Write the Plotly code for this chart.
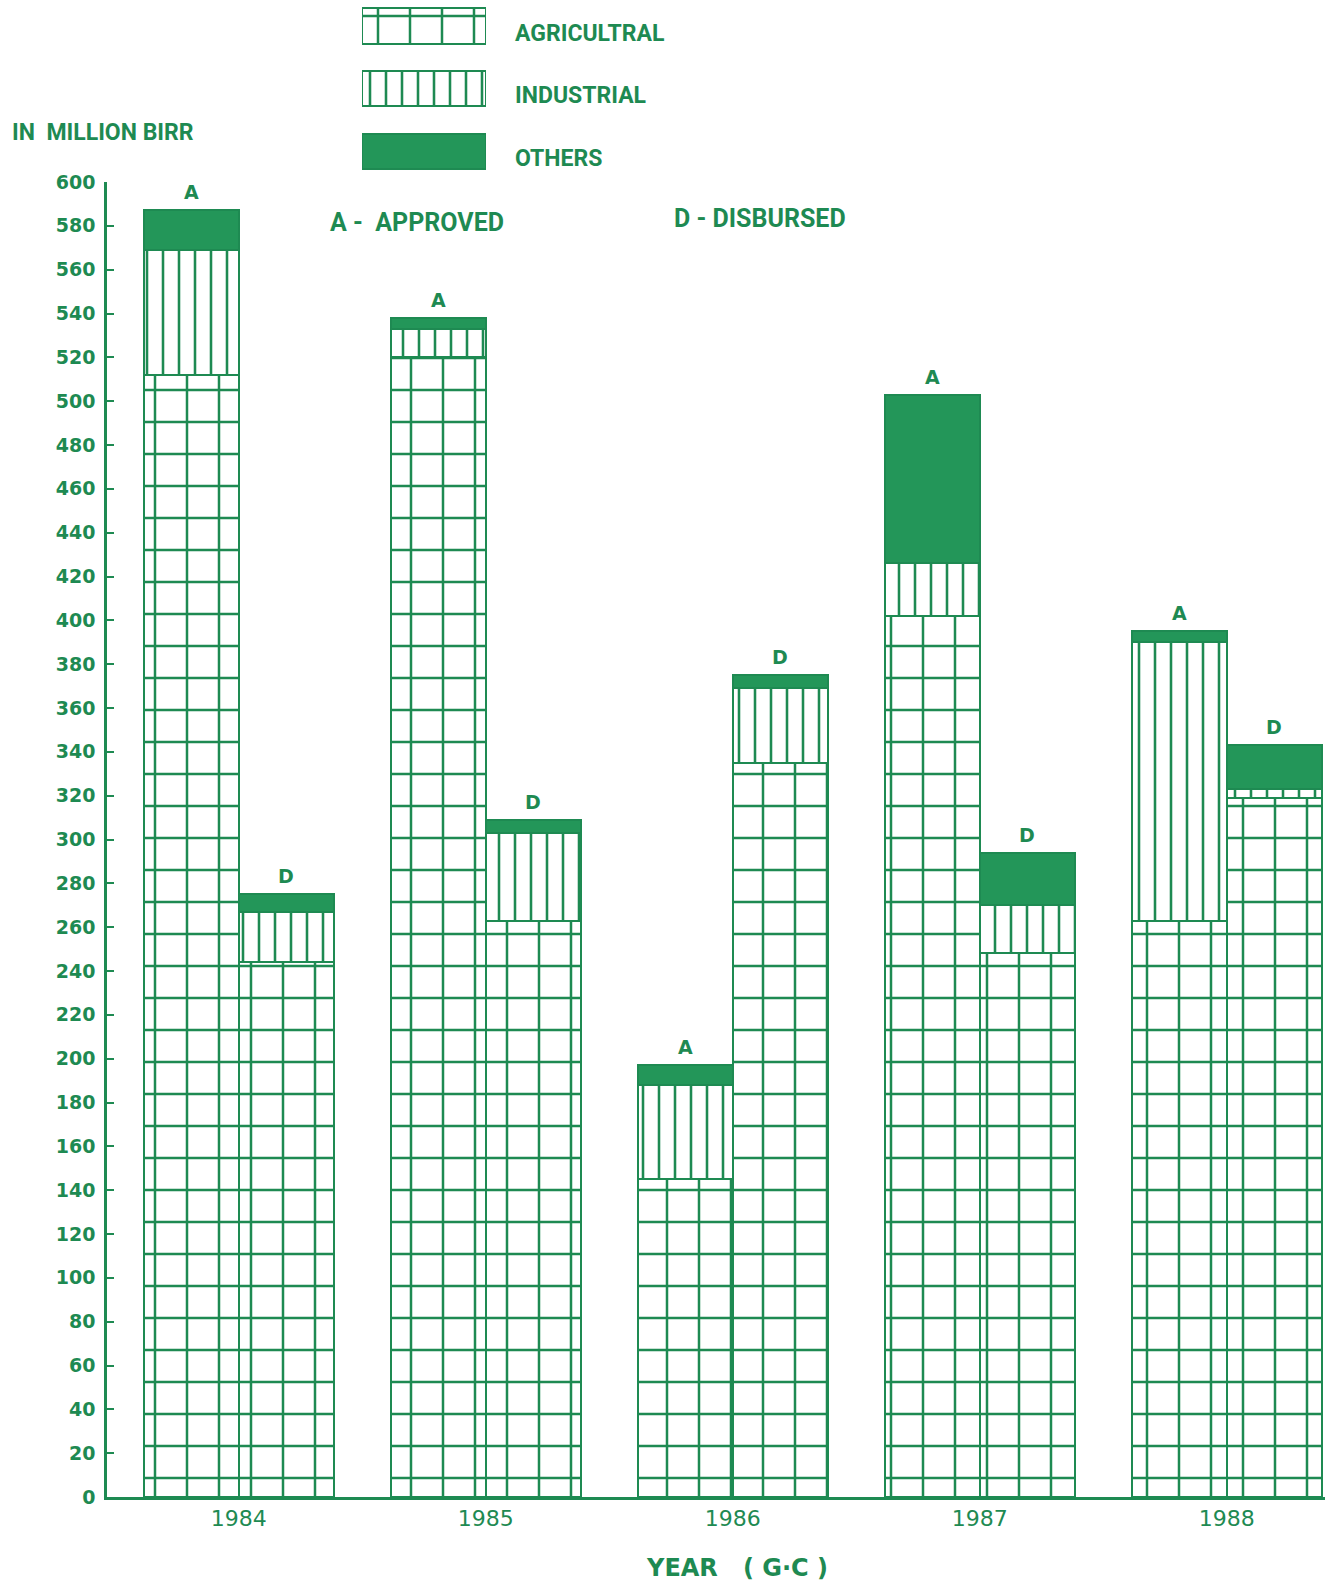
import plotly.graph_objects as go

# ---------------- data ----------------
years = [1984, 1985, 1986, 1987, 1988]
year_labels = ["1984", "1985", "1986", "1987", "1988"]
categories = ["AGRICULTRAL", "INDUSTRIAL", "OTHERS"]

approved_agri = [512, 520, 145, 402, 263]
approved_ind = [57, 13, 43, 24, 127]
approved_oth = [18, 5, 9, 77, 5]

disbursed_agri = [244, 263, 335, 248, 319]
disbursed_ind = [23, 40, 34, 22, 4]
disbursed_oth = [8, 6, 6, 24, 20]

y_ticks = list(range(0, 601, 20))

# ---------------- style ----------------
G = "#1e8a52"       # line / text green
G_FILL = "#239659"  # solid fill for others
W = 1330
H = 1585

bar_w = 0.385
xA = [y - bar_w / 2 for y in years]
xD = [y + bar_w / 2 for y in years]

patterns = [
    dict(shape="+", size=32, solidity=0.15, fgcolor=G, bgcolor="white", fillmode="replace"),
    dict(shape="|", size=16, solidity=0.16, fgcolor=G, bgcolor="white", fillmode="replace"),
    None,
]

series = [
    (approved_agri, disbursed_agri),
    (approved_ind, disbursed_ind),
    (approved_oth, disbursed_oth),
]

fig = go.Figure()

for i, (name, (a, d)) in enumerate(zip(categories, series)):
    marker = dict(color="white" if patterns[i] else G_FILL, line=dict(color=G, width=2.5))
    if patterns[i]:
        marker["pattern"] = patterns[i]
    fig.add_trace(go.Bar(
        x=xA + xD, y=a + d, width=bar_w, name=name, marker=marker,
        showlegend=False, hoverinfo="skip", xaxis="x", yaxis="y",
    ))

# legend swatches (auxiliary axes)
for i, name in enumerate(categories):
    marker = dict(color="white" if patterns[i] else G_FILL, line=dict(color=G, width=2.5))
    if patterns[i]:
        marker["pattern"] = patterns[i]
    fig.add_trace(go.Bar(
        x=[1], y=[i], base=0, orientation="h", width=0.56, marker=marker,
        xaxis="x2", yaxis="y2", showlegend=False, hoverinfo="skip",
    ))


def px_x(p):
    return p / W


def px_y(p):
    return (H - p) / H


# main axes
x_left, x_right = 107, 1325
center_px, spacing_px = 732.8, 247.0
xr = [1986 + (x_left - center_px) / spacing_px, 1986 + (x_right - center_px) / spacing_px]

fig.update_layout(
    width=W, height=H,
    margin=dict(l=0, r=0, t=0, b=0, autoexpand=False),
    paper_bgcolor="white", plot_bgcolor="white",
    barmode="stack", bargap=0,
    font=dict(family="Roboto", color=G),
    xaxis=dict(
        domain=[px_x(x_left), px_x(x_right)], range=xr, automargin=False,
        tickvals=years, ticktext=year_labels, ticks="",
        ticklabelstandoff=0,
        tickfont=dict(family="DejaVu Sans", size=22, color=G),
        showline=True, linecolor=G, linewidth=2.5, showgrid=False, zeroline=False,
        anchor="y",
    ),
    yaxis=dict(
        domain=[px_y(1497), px_y(182)], range=[0, 600], automargin=False,
        tickvals=y_ticks, ticks="inside", ticklen=7, tickwidth=2, tickcolor=G,
        ticklabelstandoff=5,
        tickfont=dict(family="DejaVu Sans", size=19, color=G, weight="bold"),
        showline=True, linecolor=G, linewidth=2.5, showgrid=False, zeroline=False,
        anchor="x",
    ),
    xaxis2=dict(
        domain=[px_x(362), px_x(486)], range=[0, 1], visible=False, anchor="y2",
        automargin=False,
    ),
    yaxis2=dict(
        domain=[px_y(182), 1.0], range=[(182 - 26) / 62.75, -26 / 62.75],
        visible=False, automargin=False, anchor="x2",
    ),
)

# legend texts next to the swatches
for i, name in enumerate(categories):
    fig.add_annotation(x=1, y=i, xref="x2", yref="y2", text=name, showarrow=False,
                       xanchor="left", yanchor="middle", xshift=27, yshift=-7,
                       font=dict(family="Roboto", size=23, color=G, weight="bold"))

# A / D labels on top of each bar
tot_A = [sum(v) for v in zip(approved_agri, approved_ind, approved_oth)]
tot_D = [sum(v) for v in zip(disbursed_agri, disbursed_ind, disbursed_oth)]
for xs, tots, lab in ((xA, tot_A, "A"), (xD, tot_D, "D")):
    for xv, tv in zip(xs, tots):
        fig.add_annotation(x=xv, y=tv, xref="x", yref="y", text=lab, showarrow=False,
                           xanchor="center", yanchor="bottom", yshift=5,
                           font=dict(family="DejaVu Sans", size=19, color=G, weight="bold"))

fig.add_annotation(text="IN  MILLION BIRR", x=px_x(10), y=px_y(133), xref="paper", yref="paper",
                   xanchor="left", yanchor="middle", showarrow=False,
                   font=dict(family="Roboto", size=23, color=G, weight="bold"))
fig.add_annotation(text="A -  APPROVED", x=px_x(328), y=px_y(222), xref="paper", yref="paper",
                   xanchor="left", yanchor="middle", showarrow=False,
                   font=dict(family="Roboto", size=25, color=G, weight="bold"))
fig.add_annotation(text="D - DISBURSED", x=px_x(672), y=px_y(219), xref="paper", yref="paper",
                   xanchor="left", yanchor="middle", showarrow=False,
                   font=dict(family="Roboto", size=25, color=G, weight="bold"))
fig.add_annotation(text="YEAR   ( G·C )", x=px_x(737), y=px_y(1568), xref="paper", yref="paper",
                   xanchor="center", yanchor="middle", showarrow=False,
                   font=dict(family="DejaVu Sans", size=24, color=G, weight="bold"))

fig.write_html(
    "out.html",
    config={"displayModeBar": False},
    post_script="document.body.style.margin='0';document.documentElement.style.overflow='hidden';",
)
